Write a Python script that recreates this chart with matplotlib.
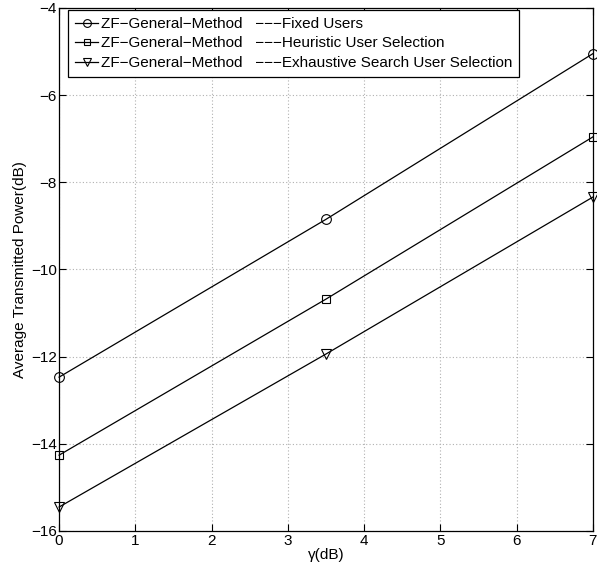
"""
Average transmitted power versus gamma for three user selection schemes.
"""

import matplotlib.pyplot as plt

plt.rcParams['font.family'] = ['Liberation Sans', 'DejaVu Sans']

gamma_db = [0, 3.5, 7]

power_fixed = [-12.47, -8.85, -5.05]
power_heuristic = [-14.26, -10.68, -6.96]
power_exhaustive = [-15.45, -11.94, -8.34]

labels = [
    "ZF\u2212General\u2212Method   \u2212\u2212\u2212Fixed Users",
    "ZF\u2212General\u2212Method   \u2212\u2212\u2212Heuristic User Selection",
    "ZF\u2212General\u2212Method   \u2212\u2212\u2212Exhaustive Search User Selection",
]
markers = ["o", "s", "v"]

fig = plt.figure(figsize=(5.97, 5.67), dpi=100)
ax = fig.add_axes([0.099, 0.0635, 0.894, 0.9225])

for series, mk, lab in zip([power_fixed, power_heuristic, power_exhaustive], markers, labels):
    ax.plot(gamma_db, series, color="black", linewidth=0.9, marker=mk,
            markersize=7 if mk != "s" else 6, markerfacecolor="none",
            markeredgewidth=0.8, label=lab, clip_on=False)

ax.set_xlim(0, 7)
ax.set_ylim(-16, -4)
ax.set_xticks(range(0, 8))
ax.set_yticks(range(-16, -3, 2))
ax.grid(True, linestyle=(0, (1, 2)), color="#b0b0b0", linewidth=0.8)
ax.tick_params(direction="in", length=5, labelsize=11, top=True, right=True)
ax.tick_params(axis="y", pad=1.5)
ax.tick_params(axis="x", pad=2.5)
for side in ax.spines.values():
    side.set_linewidth(0.9)

ax.set_xlabel("\u03b3(dB)", fontsize=11, labelpad=0)
ax.set_ylabel("Average Transmitted Power(dB)", fontsize=11, labelpad=3)

leg = ax.legend(loc="upper left", bbox_to_anchor=(0.017, 0.996), fontsize=11,
                frameon=True, fancybox=False, edgecolor="black",
                handlelength=1.5, handletextpad=0.2, borderpad=0.45,
                labelspacing=0.36, borderaxespad=0.0, framealpha=1,
                markerscale=0.8)
leg.get_frame().set_linewidth(0.9)

plt.savefig("out.png", dpi=100)
